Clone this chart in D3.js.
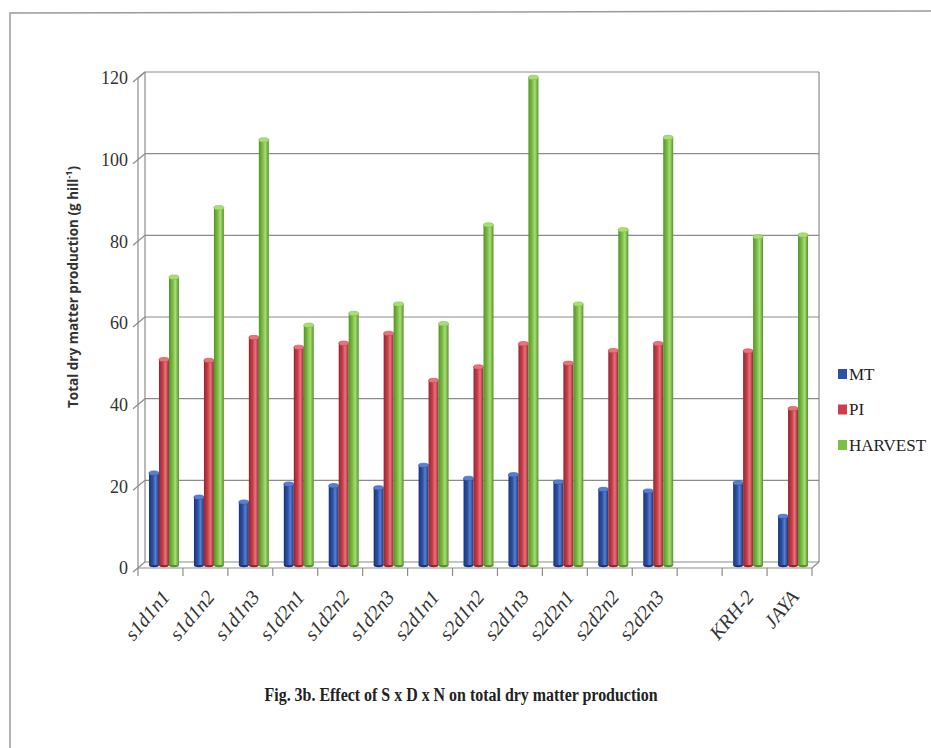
<!DOCTYPE html>
<html>
<head>
<meta charset="utf-8">
<script src="https://cdn.jsdelivr.net/npm/d3@7"></script>
<style>
  body { margin: 0; background: #fff; }
  svg { display: block; }
</style>
</head>
<body>
<svg id="drawing_region"></svg>
<script>
// values (g hill-1); the empty slot is the gap before the checks
const categories = ["s1d1n1", "s1d1n2", "s1d1n3", "s1d2n1", "s1d2n2", "s1d2n3",
                    "s2d1n1", "s2d1n2", "s2d1n3", "s2d2n1", "s2d2n2", "s2d2n3",
                    "", "KRH-2", "JAYA"];
const seriesNames = ["MT", "PI", "HARVEST"];
const mt      = [22.5, 16.6, 15.4, 19.8, 19.4, 18.9, 24.4, 21.2, 22.1, 20.3, 18.5, 18.1, null, 20.1, 11.9];
const pi      = [50.3, 50.1, 55.7, 53.3, 54.3, 56.7, 45.2, 48.5, 54.2, 49.4, 52.5, 54.2, null, 52.4, 38.3];
const harvest = [70.5, 87.5, 104.1, 58.7, 61.6, 63.9, 59.1, 83.3, 119.4, 63.9, 82.1, 104.7, null, 80.4, 80.8];
const yTicks  = [0, 20, 40, 60, 80, 100, 120];

const width = 931, height = 748;
const depthX = 7, depthY = -6;      // back wall offset of the fake 3d box
const colors = {
    MT:      { base: "#2c52a8", dark: "#1a3578", light: "#5a7fd0" },
    PI:      { base: "#cc3f4a", dark: "#922731", light: "#e8737b" },
    HARVEST: { base: "#7cc043", dark: "#54922a", light: "#aadc78" }
};

const svg = d3.select("#drawing_region")
    .attr("width", width)
    .attr("height", height);

svg.append("rect").attr("width", width).attr("height", height).attr("fill", "#fff");

// page frame (scan edge)
svg.append("path")
    .attr("d", `M10,${height} L10,13 L${width},11`)
    .attr("fill", "none")
    .attr("stroke", "#9a9a9a")
    .attr("stroke-width", 1.5);

const x = d3.scaleBand()
    .domain(d3.range(categories.length))
    .range([138, 812])
    .padding(0);

const xs = d3.scaleBand()
    .domain(seriesNames)
    .range([0, x.bandwidth()])
    .paddingInner(0)
    .paddingOuter(0.75);

const y = d3.scaleLinear()
    .domain([0, 120])
    .range([568, 78]);

const x0 = x.range()[0], x1 = x.range()[1];
const grid = "#8c8c8c";

// back wall and side wall gridlines
const walls = svg.append("g").attr("fill", "none").attr("stroke", grid).attr("stroke-width", 1.2);
yTicks.forEach(t => {
    walls.append("line")
        .attr("x1", x0 + depthX).attr("x2", x1 + depthX)
        .attr("y1", y(t) + depthY).attr("y2", y(t) + depthY);
    walls.append("line")
        .attr("x1", x0 - 5).attr("y1", y(t) + 4)
        .attr("x2", x0 + depthX).attr("y2", y(t) + depthY);
});
walls.append("line")
    .attr("x1", x0 + depthX).attr("x2", x0 + depthX)
    .attr("y1", y(120) + depthY).attr("y2", y(0) + depthY);
walls.append("line")
    .attr("x1", x1 + depthX).attr("x2", x1 + depthX)
    .attr("y1", y(120) + depthY).attr("y2", y(0) + depthY);
// floor
walls.append("path")
    .attr("d", `M${x0},${y(0)} L${x1},${y(0)} L${x1 + depthX},${y(0) + depthY}`);

// bars as cylinders standing in the middle of the depth
const defs = svg.append("defs");
seriesNames.forEach(s => {
    const g = defs.append("linearGradient").attr("id", "grad-" + s)
        .attr("x1", "0%").attr("x2", "100%").attr("y1", "0%").attr("y2", "0%");
    g.append("stop").attr("offset", "0%").attr("stop-color", colors[s].dark);
    g.append("stop").attr("offset", "40%").attr("stop-color", colors[s].base);
    g.append("stop").attr("offset", "65%").attr("stop-color", colors[s].light);
    g.append("stop").attr("offset", "100%").attr("stop-color", colors[s].dark);
});

const rows = categories.map((c, i) => ({ i: i, MT: mt[i], PI: pi[i], HARVEST: harvest[i] }));
const midX = depthX / 2, midY = depthY / 2;
const bw = xs.bandwidth();
const ry = 2.2;

const bars = svg.append("g");
rows.forEach(r => {
    seriesNames.forEach(s => {
        const v = r[s];
        if (v == null) return;
        const bx = x(r.i) + xs(s) + midX;
        const top = y(v) + midY;
        const bottom = y(0) + midY;
        const gb = bars.append("g");
        gb.append("ellipse")
            .attr("cx", bx + bw / 2).attr("cy", bottom)
            .attr("rx", bw / 2).attr("ry", ry)
            .attr("fill", colors[s].dark);
        gb.append("rect")
            .attr("x", bx).attr("y", top)
            .attr("width", bw).attr("height", bottom - top)
            .attr("fill", `url(#grad-${s})`);
        gb.append("ellipse")
            .attr("cx", bx + bw / 2).attr("cy", top)
            .attr("rx", bw / 2).attr("ry", ry)
            .attr("fill", colors[s].light)
            .attr("stroke", colors[s].base)
            .attr("stroke-width", 0.6);
    });
});

// front y axis
const yAxis = svg.append("g")
    .attr("transform", `translate(${x0},0)`)
    .call(d3.axisLeft(y).tickValues(yTicks).tickSize(0).tickPadding(10));
yAxis.select(".domain").attr("stroke", grid).attr("stroke-width", 1.2);
yAxis.selectAll("text")
    .attr("font-family", "'Liberation Serif', 'Times New Roman', serif")
    .attr("font-size", 18)
    .attr("fill", "#333");
yAxis.select(".domain").attr("d", `M0,${y(120)}V${y(0)}`);
svg.append("line")
    .attr("x1", x0).attr("y1", y(120))
    .attr("x2", x0 + depthX).attr("y2", y(120) + depthY)
    .attr("stroke", grid).attr("stroke-width", 1.2);

// category axis
const xAxis = svg.append("g")
    .attr("transform", `translate(0,${y(0)})`)
    .call(d3.axisBottom(x).tickFormat(i => categories[i]).tickSize(0));
xAxis.select(".domain").remove();
xAxis.selectAll("text")
    .attr("font-family", "'Liberation Serif', 'Times New Roman', serif")
    .attr("font-style", "italic")
    .attr("font-size", 20)
    .attr("fill", "#333")
    .attr("text-anchor", "end")
    .attr("transform", "translate(5,25) rotate(-50)")
    .attr("dy", "0.35em")
    .attr("y", 0);
const xTickPos = d3.range(categories.length + 1).map(i => x0 + i * x.step());
xAxis.selectAll(".slot-tick")
    .data(xTickPos)
    .enter()
    .append("line")
    .attr("x1", d => d).attr("x2", d => d)
    .attr("y1", 0).attr("y2", 8)
    .attr("stroke", grid).attr("stroke-width", 1.2);

// y axis title
const yTitle = svg.append("text")
    .attr("transform", "translate(78,287) rotate(-90)")
    .attr("text-anchor", "middle")
    .attr("font-family", "'Open Sans', sans-serif")
    .attr("font-weight", "bold")
    .attr("font-size", 13.5)
    .attr("fill", "#333");
yTitle.append("tspan").text("Total dry matter production (g hill");
yTitle.append("tspan").attr("font-size", 9).attr("baseline-shift", "super").text("-1");
yTitle.append("tspan").text(")");

// legend
const legend = svg.append("g").attr("transform", "translate(838,374)");
seriesNames.forEach((s, k) => {
    const lg = legend.append("g").attr("transform", `translate(0,${k * 35.5})`);
    lg.append("rect")
        .attr("x", 0).attr("y", -5)
        .attr("width", 9).attr("height", 10)
        .attr("fill", colors[s].base);
    lg.append("text")
        .attr("x", 11).attr("y", 0)
        .attr("dy", "0.35em")
        .attr("font-family", "'Liberation Serif', 'Times New Roman', serif")
        .attr("font-size", 17)
        .attr("fill", "#222")
        .text(s);
});

// caption
svg.append("text")
    .attr("x", 461).attr("y", 701)
    .attr("text-anchor", "middle")
    .attr("font-family", "'Liberation Serif', 'Times New Roman', serif")
    .attr("font-weight", "bold")
    .attr("font-size", 18)
    .attr("textLength", 393)
    .attr("lengthAdjust", "spacingAndGlyphs")
    .attr("fill", "#222")
    .text("Fig. 3b. Effect of S x D x N on total dry matter production");
</script>
</body>
</html>
